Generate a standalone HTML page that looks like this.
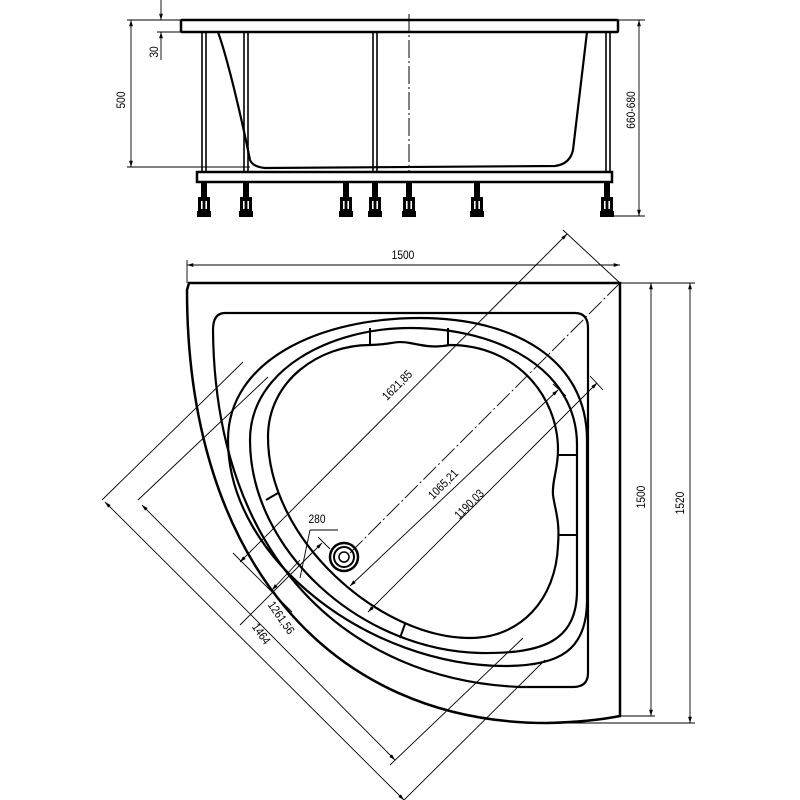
<!DOCTYPE html>
<html><head><meta charset="utf-8"><style>
html,body{margin:0;padding:0;background:#fff}
svg{display:block}
text{font-family:"Liberation Sans",sans-serif;font-size:12px;fill:#000}
</style></head><body>
<svg width="800" height="800" viewBox="0 0 800 800" xmlns="http://www.w3.org/2000/svg">
<defs>
<marker id="ar" viewBox="0 0 10 10" refX="10" refY="5" markerWidth="7" markerHeight="7" orient="auto-start-reverse"><path d="M0,2 L10,5 L0,8 z" fill="#000"/></marker>
<g id="ft" fill="#000">
<rect x="-3" y="182" width="6" height="15"/>
<rect x="-6" y="197" width="12" height="15"/>
<rect x="-7" y="211" width="14" height="6"/>
<rect x="-3" y="201" width="1.6" height="8" fill="#fff"/>
<rect x="1.4" y="201" width="1.6" height="8" fill="#fff"/>
</g>
</defs>
<g fill="none" stroke="#000">
<!-- ===== TOP ELEVATION ===== -->
<rect x="181" y="20" width="437" height="12" stroke-width="2.5" rx="1"/>
<rect x="197" y="172" width="415" height="10" stroke-width="2.5"/>
<g stroke-width="1.6">
<line x1="202" y1="32" x2="202" y2="172"/><line x1="206" y1="32" x2="206" y2="172"/>
<line x1="244" y1="32" x2="244" y2="172"/><line x1="248" y1="32" x2="248" y2="172"/>
<line x1="373" y1="32" x2="373" y2="172"/><line x1="377" y1="32" x2="377" y2="172"/>
<line x1="606" y1="32" x2="606" y2="172"/><line x1="610" y1="32" x2="610" y2="172"/>
</g>
<path d="M218,32 C228,60 242,120 250,160 Q253,167 265,168 L555,166 Q570,164 573,150 L587,32" stroke-width="2.2"/>
<line x1="409" y1="14" x2="409" y2="172" stroke-width="1" stroke-dasharray="18,3,2,3"/>
<g stroke-width="0.9">
<line x1="127" y1="20" x2="181" y2="20"/>
<line x1="127" y1="167" x2="250" y2="167"/>
<line x1="131" y1="20" x2="131" y2="167" marker-start="url(#ar)" marker-end="url(#ar)"/>
<line x1="157" y1="32" x2="181" y2="32"/>
<line x1="161" y1="0" x2="161" y2="20" marker-end="url(#ar)"/>
<line x1="161" y1="60" x2="161" y2="32" marker-end="url(#ar)"/>
<line x1="618" y1="20" x2="645" y2="20"/>
<line x1="612" y1="216" x2="645" y2="216"/>
<line x1="639" y1="20" x2="639" y2="216" marker-start="url(#ar)" marker-end="url(#ar)"/>
</g>
</g>
<use href="#ft" transform="translate(204,0)"/>
<use href="#ft" transform="translate(246,0)"/>
<use href="#ft" transform="translate(346,0)"/>
<use href="#ft" transform="translate(375,0)"/>
<use href="#ft" transform="translate(409,0)"/>
<use href="#ft" transform="translate(477,0)"/>
<use href="#ft" transform="translate(607,0)"/>
<text transform="translate(125,100) rotate(-90) scale(0.85,1)" text-anchor="middle">500</text>
<text transform="translate(158,52) rotate(-90) scale(0.85,1)" text-anchor="middle">30</text>
<text transform="translate(635,110) rotate(-90) scale(0.85,1)" text-anchor="middle">660-680</text>

<!-- ===== PLAN ===== -->
<g fill="none" stroke="#000">
<path d="M189,283 L620,283 L620,716 Q590,722 547,723 C330,723 187,560 187,290 Z" stroke-width="2.5"/>
<path d="M225,313 L575,313 Q588,313 588,328 L588,673 Q588,687 573,687 L520,687 C350,680 215,560 213,330 Q213,313 225,313 Z" stroke-width="2.2"/>
<path d="M228,440 C228,360 320,318 420,318 C515,318 587,360 587,440 L587,600 C587,650 560,666 505,666 C370,666 228,560 228,440 Z" stroke-width="2.2"/>
<path d="M250,440 C250,370 330,328 410,328 C500,328 577,370 577,445 L577,590 C577,640 545,654 480,653 C360,650 250,550 250,440 Z" stroke-width="2.2"/>
<path d="M268,437 C268,380 320,345 370,345 C390,345 395,340 410,343 C425,346 435,348 450,345 C515,345 558,395 558,450 C558,470 552,480 553,495 C555,510 560,520 558,545 C556,600 520,638 470,638 C380,638 268,540 268,437 Z" stroke-width="2.2"/>
<g stroke-width="2">
<line x1="370" y1="328" x2="370" y2="345"/>
<line x1="448" y1="328" x2="448" y2="345"/>
<line x1="558" y1="455" x2="577" y2="455"/>
<line x1="558" y1="535" x2="577" y2="535"/>
<line x1="266" y1="500" x2="278" y2="493"/>
<line x1="405" y1="624" x2="400" y2="638"/>
</g>
<circle cx="344" cy="557" r="14" stroke-width="2.5"/>
<circle cx="344" cy="557" r="10" stroke-width="2"/>
<circle cx="344" cy="557" r="5" stroke-width="1.5"/>
<g stroke-width="0.9">
<line x1="187" y1="260" x2="187" y2="283"/>
<line x1="187" y1="265" x2="620" y2="265" marker-start="url(#ar)" marker-end="url(#ar)"/>
<line x1="620" y1="283" x2="695" y2="283"/>
<line x1="620" y1="716" x2="655" y2="716"/>
<line x1="547" y1="723" x2="695" y2="723"/>
<line x1="651" y1="283" x2="651" y2="716" marker-start="url(#ar)" marker-end="url(#ar)"/>
<line x1="690" y1="283" x2="690" y2="723" marker-start="url(#ar)" marker-end="url(#ar)"/>
<line x1="102" y1="500" x2="243" y2="362"/>
<line x1="138" y1="500" x2="268" y2="377"/>
<line x1="105" y1="502" x2="404" y2="800" marker-start="url(#ar)" marker-end="url(#ar)"/>
<line x1="142" y1="505" x2="395" y2="760" marker-start="url(#ar)" marker-end="url(#ar)"/>
<line x1="390" y1="765" x2="523" y2="638"/>
<line x1="400" y1="804" x2="545" y2="660"/>
<line x1="240" y1="562" x2="567" y2="234" marker-start="url(#ar)" marker-end="url(#ar)"/>
<line x1="233" y1="553" x2="292" y2="612"/>
<line x1="563" y1="230" x2="620" y2="283"/>
<line x1="620" y1="283" x2="350" y2="553" stroke-dasharray="18,3,2,3"/>
<line x1="350" y1="586" x2="558" y2="390" marker-start="url(#ar)" marker-end="url(#ar)"/>
<line x1="553" y1="384" x2="566" y2="396"/>
<line x1="368" y1="612" x2="597" y2="383" marker-start="url(#ar)" marker-end="url(#ar)"/>
<line x1="590" y1="376" x2="603" y2="390"/>
<line x1="240" y1="625" x2="322" y2="543" marker-end="url(#ar)"/>
<line x1="300" y1="560" x2="272" y2="590" marker-end="url(#ar)"/>
<line x1="318" y1="537" x2="330" y2="549"/>
<line x1="300" y1="578" x2="310" y2="530"/>
<line x1="310" y1="530" x2="338" y2="530"/>
</g>
</g>
<text transform="translate(403,259) scale(0.85,1)" text-anchor="middle">1500</text>
<text transform="translate(645,497) rotate(-90) scale(0.85,1)" text-anchor="middle">1500</text>
<text transform="translate(684,503) rotate(-90) scale(0.85,1)" text-anchor="middle">1520</text>
<text transform="translate(400,388) rotate(-45) scale(0.85,1)" text-anchor="middle">1621,85</text>
<text transform="translate(446,487) rotate(-45) scale(0.85,1)" text-anchor="middle">1065,21</text>
<text transform="translate(472,507) rotate(-45) scale(0.85,1)" text-anchor="middle">1190,03</text>
<text transform="translate(317,523) scale(0.85,1)" text-anchor="middle">280</text>
<text transform="translate(278,620) rotate(55) scale(0.85,1)" text-anchor="middle">1261,56</text>
<text transform="translate(258,636) rotate(55) scale(0.85,1)" text-anchor="middle">1464</text>
</svg>
</body></html>
